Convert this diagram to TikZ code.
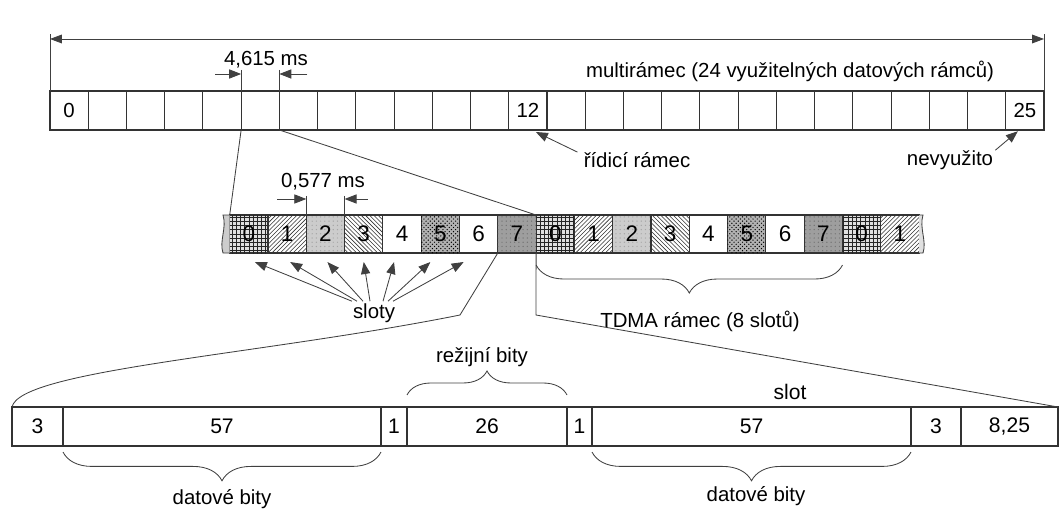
\documentclass[tikz,border=0pt]{standalone}
\usepackage{fontspec}
\setmainfont{Liberation Sans}
\usetikzlibrary{arrows.meta,patterns,decorations.pathreplacing}

\tikzset{
  frm/.style={draw=black!80, line width=0.8pt, minimum width=0.956cm, minimum height=0.975cm, inner sep=0pt, outer sep=0pt, font=\fontsize{14.5}{16}\selectfont},
  slotbox/.style={draw=black!80, line width=0.8pt, minimum width=0.9575cm, minimum height=0.95cm, inner sep=0pt, outer sep=0pt, font=\fontsize{16}{17}\selectfont},
  bit/.style={draw=black!80, line width=0.8pt, minimum height=0.975cm, inner sep=0pt, outer sep=0pt, font=\fontsize{15}{16}\selectfont},
  lbl/.style={inner sep=0pt, font=\fontsize{14.5}{16}\selectfont},
  arr/.style={-{Triangle[length=3mm,width=2.3mm]}, line width=0.6pt, draw=black!75},
  thinline/.style={line width=0.6pt, draw=black!75},
  brc/.style={decorate, line width=0.6pt, draw=black!75},
  % fillings of the eight slots
  pat0/.style={fill=black!12, postaction={pattern=grid, pattern color=black!85}},
  pat1/.style={postaction={pattern=north east lines, pattern color=black!80}},
  pat2/.style={fill=black!20, postaction={pattern=dots, pattern color=black!35}},
  pat3/.style={postaction={pattern=north west lines, pattern color=black!80}},
  pat4/.style={},
  pat5/.style={fill=black!30, postaction={pattern=crosshatch dots, pattern color=black}},
  pat6/.style={},
  pat7/.style={fill=black!38, postaction={pattern=dots, pattern color=black!55}},
}

\begin{document}
\begin{tikzpicture}[x=0.025cm, y=-0.025cm]
\useasboundingbox (0,0) rectangle (1064,508);

%multiframe of 26 frames
\foreach \i in {0,...,25}
  \node[frm] (f\i) at ({50+(\i+0.5)*38.23},110.5) {\ifnum\i=0 0\fi\ifnum\i=12 12\fi\ifnum\i=25 25\fi};

\draw[thinline] (f0.north west) -- ([yshift=1.425cm]f0.north west);
\draw[thinline] (f25.north east) -- ([yshift=1.425cm]f25.north east);
\coordinate (mL) at ([yshift=1.3cm]f0.north west);
\coordinate (mR) at ([yshift=1.3cm]f25.north east);
\draw[thinline, {Triangle[length=3mm,width=2.2mm]}-{Triangle[length=3mm,width=2.2mm]}] (mL) -- (mR);
\node[lbl] (multi) at (790,71) {multirámec (24 využitelných datových rámců)};

%frame length
\draw[thinline] ([yshift=0.525cm]f5.north west) -- (f5.north west);
\draw[thinline] ([yshift=0.525cm]f5.north east) -- (f5.north east);
\coordinate (dA) at ([yshift=0.425cm]f5.north west);
\coordinate (dB) at ([yshift=0.425cm]f5.north east);
\draw[arr] ([xshift=-0.65cm]dA) -- (dA);
\draw[arr] ([xshift=0.7cm]dB) -- (dB);
\node[lbl] (tf) at (266,60) {4,615 ms};

\node[lbl] (rid) at (637,160) {řídicí rámec};
\draw[arr] ([xshift=-0.15cm]rid.north west) -- ([xshift=0.2cm,yshift=-0.05cm]f12.south);
\node[lbl] (nev) at (950,160) {nevyužito};
\draw[arr] ([xshift=0.05cm]nev.north east) -- ([xshift=-0.175cm,yshift=-0.03cm]f25.south);

%TDMA slots
\foreach \i [evaluate=\i as \n using {int(mod(\i,8))}] in {0,...,17}
  \node[slotbox, pat\n] (s\i) at ({229.7+(\i+0.5)*38.3},234) {\n};
\filldraw[thinline, fill=black!20] (s0.north west) -- (223,215) .. controls (227,228) and (219,241) .. (223,253) -- (s0.south west);
\filldraw[thinline, fill=black!12] (s17.north east) -- (923,215) .. controls (919,228) and (927,241) .. (923,253) -- (s17.south east);

\draw[thinline] (f5.south west) -- (s0.north west);
\draw[thinline] (f5.south east) -- (s7.north east);

%slot length
\draw[thinline] ([yshift=0.475cm]s2.north west) -- (s2.north west);
\draw[thinline] ([yshift=0.475cm]s2.north east) -- (s2.north east);
\coordinate (dC) at ([yshift=0.4cm]s2.north west);
\coordinate (dD) at ([yshift=0.4cm]s2.north east);
\draw[arr] ([xshift=-0.725cm]dC) -- (dC);
\draw[arr] ([xshift=0.575cm]dD) -- (dD);
\node[lbl] (ts) at (323,182) {0,577 ms};

\node[lbl] (sl) at (374,313) {sloty};
\foreach \i/\a/\b in {0/-22/6, 1/-17/3, 2/-11/2, 3/-4/0, 4/9/-8, 5/14/-10, 6/19/-15}
  \draw[arr] ([xshift=\a*0.025cm, yshift=0.05cm]sl.north) -- ([xshift=\b*0.025cm, yshift=-0.225cm]s\i.south);

\draw[brc, decoration={brace, mirror, amplitude=0.7cm}] ([yshift=-0.3cm]s8.south west) -- ([yshift=-0.3cm]s15.south east);
\node[lbl] (tdma) at (700,321) {TDMA rámec (8 slotů)};

%one slot in bits
\foreach \i/\l/\r/\t in {0/12/63/3, 1/63/381/57, 2/381/407/1, 3/407/567/26, 4/567/592/1, 5/592/911/57, 6/911/961/3, 7/961/1058/{8,25}}
  \node[bit, minimum width={(\r-\l)*0.025cm}] (b\i) at ({(\l+\r)/2},426.5) {\t};

\draw[thinline] (s7.south west) -- (460,315) .. controls (260,355) and (20,370) .. (b0.north west);
\draw[thinline] (s8.south west) -- (536,315) -- (b7.north east);
\node[lbl, font=\fontsize{15}{16}\selectfont] (slot) at (790,392) {slot};

\draw[brc, decoration={brace, amplitude=0.6cm}] ([yshift=0.3cm]b3.north west) -- ([yshift=0.3cm]b3.north east);
\node[lbl] (rez) at (482,357) {režijní bity};

\draw[brc, decoration={brace, mirror, amplitude=0.72cm}] ([yshift=-0.15cm]b1.south west) -- ([yshift=-0.15cm]b1.south east);
\node[lbl] (dat1) at (222,499) {datové bity};
\draw[brc, decoration={brace, mirror, amplitude=0.72cm}] ([yshift=-0.15cm]b5.south west) -- ([yshift=-0.15cm]b5.south east);
\node[lbl] (dat2) at (756,496) {datové bity};

\end{tikzpicture}
\end{document}
